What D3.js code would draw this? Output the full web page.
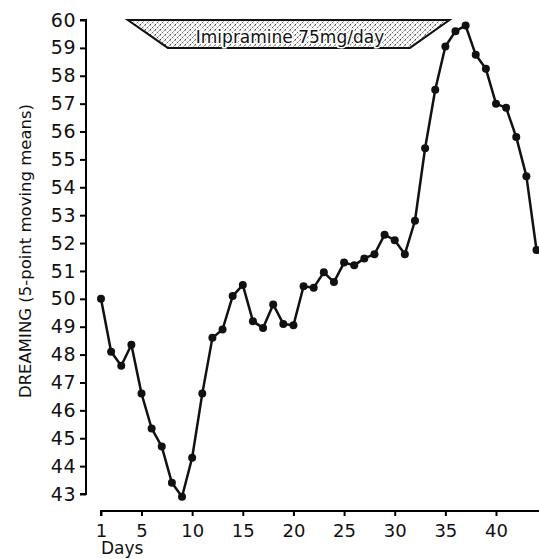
<!DOCTYPE html>
<html>
<head>
<meta charset="utf-8">
<script src="https://cdn.jsdelivr.net/npm/d3@7"></script>
<style>
body { margin: 0; background: #fff; }
text { font-family: "DejaVu Sans", sans-serif; fill: #111; }
</style>
</head>
<body>
<div id="chart"></div>
<script>
var days = [1,2,3,4,5,6,7,8,9,10,11,12,13,14,15,16,17,18,19,20,21,22,23,24,25,26,27,28,29,30,31,32,33,34,35,36,37,38,39,40,41,42,43,44]
var dreaming = [50.0,48.1,47.6,48.35,46.6,45.35,44.7,43.4,42.9,44.3,46.6,48.6,48.9,50.1,50.5,49.2,48.95,49.8,49.1,49.05,
    50.45,50.4,50.95,50.6,51.3,51.2,51.45,51.6,52.3,52.1,51.6,52.8,55.4,57.5,59.05,59.6,59.8,58.75,58.25,57.0,
    56.85,55.8,54.4,51.75]
var xTicks = [1,5,10,15,20,25,30,35,40]
var yTicks = [43,44,45,46,47,48,49,50,51,52,53,54,55,56,57,58,59,60]
// drug period band: top edge days, bottom edge days, levels
var drugLabel = "Imipramine 75mg/day"
var drugTop = [3.65, 35.4]
var drugBottom = [7.6, 31.5]
var drugLevels = [60, 59]

var width = 539, height = 559

var svg = d3.select("#chart").append("svg")
    .attr("width", width)
    .attr("height", height)

var x = d3.scaleLinear().domain([1, 40]).range([101, 496])
var y = d3.scaleLinear().domain([43, 60]).range([494, 20])

// hatch pattern
var defs = svg.append("defs")
var pat = defs.append("pattern")
    .attr("id", "hatch")
    .attr("patternUnits", "userSpaceOnUse")
    .attr("width", 5)
    .attr("height", 5)
pat.append("path")
    .attr("d", "M0,5 L5,0")
    .attr("stroke", "#333")
    .attr("stroke-width", 0.9)
    .attr("stroke-dasharray", "1.5,1")
pat.append("path")
    .attr("d", "M0,0 L5,5")
    .attr("stroke", "#666")
    .attr("stroke-width", 0.7)
    .attr("stroke-dasharray", "1,1.5")

// y axis
var yAxis = d3.axisLeft(y).tickValues(yTicks).tickSize(6).tickPadding(4).tickFormat(d3.format("d"))
var gy = svg.append("g").attr("transform", "translate(86,0)").call(yAxis)
gy.select(".domain").attr("d", "M-6," + y(60) + "H0V" + y(43) + "H-6").attr("stroke-width", 2)
gy.selectAll(".tick line").attr("stroke-width", 2)
gy.selectAll(".tick text").attr("font-size", 19).attr("font-family", "DejaVu Sans").attr("fill", "#111").attr("letter-spacing", 0.5)

// x axis
var xAxis = d3.axisBottom(x).tickValues(xTicks).tickSize(5).tickPadding(8)
var gx = svg.append("g").attr("transform", "translate(0,511)").call(xAxis)
gx.select(".domain").attr("d", "M" + x(1) + ",5V0H539").attr("stroke-width", 2)
gx.selectAll(".tick line").attr("stroke-width", 2)
gx.selectAll(".tick text").attr("font-size", 18).attr("font-family", "DejaVu Sans").attr("fill", "#111")

svg.append("text")
    .attr("x", 101)
    .attr("y", 554)
    .attr("font-size", 17)
    .text("Days")

svg.append("text")
    .attr("transform", "translate(31,251) rotate(-90)")
    .attr("text-anchor", "middle")
    .attr("font-size", 16.5)
    .text("DREAMING (5-point moving means)")

// drug band
var band = [[drugTop[0], drugLevels[0]], [drugTop[1], drugLevels[0]], [drugBottom[1], drugLevels[1]], [drugBottom[0], drugLevels[1]]]
svg.append("path")
    .attr("d", d3.line().x(function(d) { return x(d[0]) }).y(function(d) { return y(d[1]) })(band) + "Z")
    .attr("fill", "url(#hatch)")
    .attr("stroke", "#111")
    .attr("stroke-width", 2)

svg.append("text")
    .attr("x", 290)
    .attr("y", 43)
    .attr("text-anchor", "middle")
    .attr("font-size", 17)
    .attr("stroke", "#fff")
    .attr("stroke-width", 3)
    .attr("fill", "#fff")
    .text(drugLabel)
svg.append("text")
    .attr("x", 290)
    .attr("y", 43)
    .attr("text-anchor", "middle")
    .attr("font-size", 17)
    .text(drugLabel)

// data line
var pts = days.map(function(d, i) { return [d, dreaming[i]] })
svg.append("path")
    .attr("d", d3.line().x(function(d) { return x(d[0]) }).y(function(d) { return y(d[1]) })(pts))
    .attr("fill", "none")
    .attr("stroke", "#111")
    .attr("stroke-width", 2.5)
    .attr("stroke-linejoin", "round")

svg.selectAll("circle")
    .data(pts)
    .enter()
    .append("circle")
    .attr("cx", function(d) { return x(d[0]) })
    .attr("cy", function(d) { return y(d[1]) })
    .attr("r", 4)
    .attr("fill", "#111")
</script>
</body>
</html>
